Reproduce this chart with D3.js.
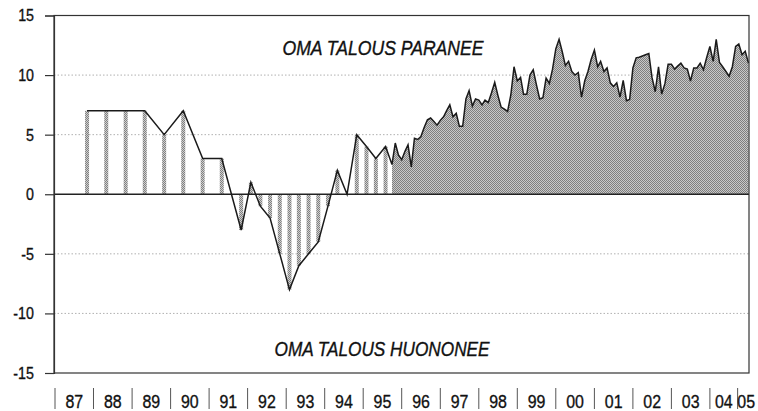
<!DOCTYPE html>
<html>
<head>
<meta charset="utf-8">
<script src="https://cdn.jsdelivr.net/npm/d3@7"></script>
<style>
  body { margin: 0; background: #fff; }
  text { font-family: "Liberation Sans Narrow", "Arial Narrow", "Liberation Sans", sans-serif; fill: #111; stroke: #111; stroke-width: 0.35px; }
</style>
</head>
<body>
<div id="viz"></div>
<script>
// semiannual survey (May / Nov)
const halfYearDates = ["1987-11", "1988-05", "1988-11", "1989-05", "1989-11", "1990-05", "1990-11", "1991-05", "1991-11"]
const halfYearValues = [7, 7, 7, 7, 5, 7, 3, 3, -3]

// quarterly survey
const quarterDates = ["1992-02", "1992-05", "1992-08", "1992-11", "1993-02", "1993-05", "1993-08", "1993-11",
                      "1994-02", "1994-05", "1994-08", "1994-11", "1995-02", "1995-05", "1995-08"]
const quarterValues = [1, -1, -2, -5, -8, -6, -5, -4, -1, 2, 0, 5, 4, 3, 4]

// monthly survey from Oct 1995 to Jan 2005
const monthStart = "1995-10"
const monthValues = [
  2.5, 4.3, 3.3, 2.9, 3.6, 4.15, 2.3, 4.7, 4.6, 4.85, 5.6, 6.25,          // 95-96
  6.4, 6.1, 5.8, 6.2, 6.5, 7.0, 7.5, 6.5, 6.8, 5.7, 5.7, 8.0,             // 96-97
  8.7, 7.4, 8.0, 7.9, 7.5, 7.9, 7.7, 8.5, 9.4, 8.3, 7.3, 7.15,            // 97-98
  6.95, 8.35, 10.7, 9.5, 9.8, 8.4, 8.4, 10.0, 10.45, 9.2, 8.0, 8.1,       // 98-99
  9.75, 9.3, 10.5, 12.2, 13.0, 12.0, 10.8, 11.15, 10.3, 10.0, 10.2, 8.15, // 99-00
  9.5, 10.3, 11.3, 12.1, 10.7, 11.15, 10.3, 10.6, 9.35, 9.05, 9.35, 8.15, // 00-01
  9.55, 7.85, 7.95, 10.6, 11.45, 11.5, 11.6, 11.7, 11.8, 9.8, 8.6, 10.7,  // 01-02
  8.4, 9.3, 10.9, 10.9, 10.5, 10.75, 11.0, 10.6, 10.5, 9.5, 10.6, 10.6,   // 02-03
  11.0, 10.45, 11.45, 12.4, 11.15, 13.0, 11.05, 10.7, 10.3, 9.9, 10.7, 12.4, // 03-04
  12.6, 11.7, 12.0, 11.0                                                  // 04-05
]

const yTicks = [15, 10, 5, 0, -5, -10, -15]
const yearLabels = ["87", "88", "89", "90", "91", "92", "93", "94", "95", "96", "97", "98", "99", "00", "01", "02", "03", "04", "05"]
// separators under the axis; the last pair is squeezed like in the original
const yearBounds = ["1987-01-01", "1988-01-01", "1989-01-01", "1990-01-01", "1991-01-01", "1992-01-01", "1993-01-01",
                    "1994-01-01", "1995-01-01", "1996-01-01", "1997-01-01", "1998-01-01", "1999-01-01", "2000-01-01",
                    "2001-01-01", "2002-01-01", "2003-01-01", "2004-01-01", "2004-09-20", "2005-03-01"]

const width = 758
const height = 411
const plotLeft = 54, plotRight = 749, plotTop = 15.5, plotBottom = 373
const narrow = 0.84   // no condensed font installed, so squeeze the glyphs

const parseMonth = d3.timeParse("%Y-%m")
const parseDay = d3.timeParse("%Y-%m-%d")

const halfYear = halfYearDates.map((d, i) => ({date: parseMonth(d), value: halfYearValues[i]}))
const quarter = quarterDates.map((d, i) => ({date: parseMonth(d), value: quarterValues[i]}))
const m0 = parseMonth(monthStart)
const monthly = monthValues.map((v, i) => ({date: d3.timeMonth.offset(m0, i), value: v}))
const bars = halfYear.concat(quarter)
const allPoints = bars.concat(monthly)

const xScale = d3.scaleTime()
                .domain([parseDay("1987-01-01"), parseDay("2005-01-01")])
                .range([55, 748.5])

const yScale = d3.scaleLinear()
                .domain([-15, 15])
                .range([plotBottom, plotTop])

const svg = d3.select("#viz").append("svg").attr("width", width).attr("height", height)

const defs = svg.append("defs")
const barPat = defs.append("pattern").attr("id", "barFill")
                .attr("width", 2).attr("height", 2).attr("patternUnits", "userSpaceOnUse")
barPat.append("rect").attr("width", 2).attr("height", 2).attr("fill", "#cfcfcf")
barPat.append("rect").attr("width", 1).attr("height", 1).attr("fill", "#808080")
barPat.append("rect").attr("x", 1).attr("y", 1).attr("width", 1).attr("height", 1).attr("fill", "#808080")

const areaPat = defs.append("pattern").attr("id", "areaFill")
                .attr("width", 2).attr("height", 2).attr("patternUnits", "userSpaceOnUse")
areaPat.append("rect").attr("width", 2).attr("height", 2).attr("fill", "#c8c8c8")
areaPat.append("rect").attr("width", 1).attr("height", 1).attr("fill", "#7e7e7e")
areaPat.append("rect").attr("x", 1).attr("y", 1).attr("width", 1).attr("height", 1).attr("fill", "#7e7e7e")

// dotted gridlines
svg.append("g")
   .selectAll("line")
   .data(yTicks.filter(d => Math.abs(d) != 15 && d != 0))
   .join("line")
   .attr("x1", plotLeft).attr("x2", plotRight)
   .attr("y1", d => yScale(d)).attr("y2", d => yScale(d))
   .attr("stroke", "#b0b0b0").attr("stroke-width", 1).attr("stroke-dasharray", "1.5,2")

// hatched bars for the semiannual and quarterly points
svg.append("g")
   .selectAll("rect")
   .data(bars)
   .join("rect")
   .attr("x", d => xScale(d.date) - 2)
   .attr("y", d => yScale(Math.max(0, d.value)))
   .attr("width", 4)
   .attr("height", d => Math.abs(yScale(d.value) - yScale(0)))
   .attr("fill", "url(#barFill)")

// monthly area
const area = d3.area()
               .x(d => xScale(d.date))
               .y0(yScale(0))
               .y1(d => yScale(d.value))
svg.append("path").datum(monthly).attr("d", area).attr("fill", "url(#areaFill)")

// zero line
svg.append("line")
   .attr("x1", plotLeft).attr("x2", plotRight)
   .attr("y1", yScale(0)).attr("y2", yScale(0))
   .attr("stroke", "#222").attr("stroke-width", 1.5)

// the connecting line
const line = d3.line().x(d => xScale(d.date)).y(d => yScale(d.value))
svg.append("path").datum(allPoints).attr("d", line)
   .attr("fill", "none").attr("stroke", "#1a1a1a").attr("stroke-width", 1.5).attr("stroke-linejoin", "miter")

// frame
svg.append("rect")
   .attr("x", plotLeft).attr("y", yScale(15))
   .attr("width", plotRight - plotLeft).attr("height", yScale(-15) - yScale(15))
   .attr("fill", "none").attr("stroke", "#333").attr("stroke-width", 1.2)

// y axis
const yAxis = d3.axisLeft(yScale).tickValues(yTicks).tickSize(9).tickPadding(20 / narrow - 9)
                .tickFormat(d => String(d))
const yG = svg.append("g").attr("transform", `translate(${plotLeft},0)`).call(yAxis)
yG.select(".domain").attr("stroke", "#333").attr("stroke-width", 1.2)
yG.selectAll(".tick line").attr("stroke", "#333").attr("stroke-width", 1.2)
yG.selectAll(".tick text").attr("font-size", 17).attr("font-family", null).attr("fill", "#111")
  .attr("transform", `scale(${narrow},1)`)

// x axis: separators and year labels
const bounds = yearBounds.map(parseDay)
svg.append("g")
   .selectAll("line")
   .data(bounds.slice(0, -1))
   .join("line")
   .attr("x1", d => xScale(d)).attr("x2", d => xScale(d))
   .attr("y1", 388).attr("y2", 409)
   .attr("stroke", "#555").attr("stroke-width", 1)

svg.append("g")
   .selectAll("text")
   .data(yearLabels)
   .join("text")
   .attr("transform", (d, i) => `translate(${(xScale(bounds[i]) + xScale(bounds[i + 1])) / 2},407.5) scale(${narrow},1)`)
   .attr("text-anchor", "middle")
   .attr("font-size", 19)
   .text(d => d)

// captions
svg.append("text").attr("x", 383).attr("y", 54.5).attr("text-anchor", "middle")
   .attr("font-size", 19.5).attr("font-style", "italic")
   .attr("textLength", 201).attr("lengthAdjust", "spacingAndGlyphs")
   .text("OMA TALOUS PARANEE")
svg.append("text").attr("x", 382).attr("y", 355.5).attr("text-anchor", "middle")
   .attr("font-size", 19.5).attr("font-style", "italic")
   .attr("textLength", 215).attr("lengthAdjust", "spacingAndGlyphs")
   .text("OMA TALOUS HUONONEE")
</script>
</body>
</html>
